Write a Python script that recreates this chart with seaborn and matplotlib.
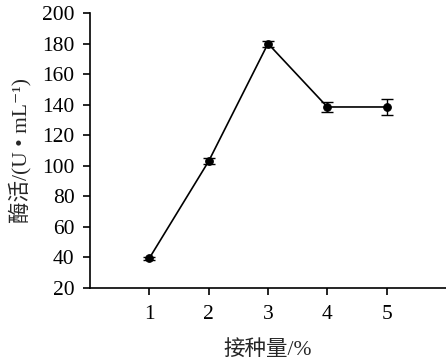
import matplotlib
matplotlib.use("Agg")
import matplotlib.pyplot as plt
import seaborn as sns
import pandas as pd

inoculum = [1, 2, 3, 4, 5]
activity = [39.5, 103.0, 180.0, 138.5, 138.5]
errors = [1.0, 2.0, 2.0, 3.0, 5.5]
yticks = [20, 40, 60, 80, 100, 120, 140, 160, 180, 200]

sns.set_style("ticks")
plt.rcParams['font.family'] = ['Liberation Serif', 'Noto Sans CJK SC', 'DejaVu Sans']

df = pd.DataFrame({"x": inoculum, "y": activity})
fig = plt.figure(figsize=(4.46, 3.62), dpi=100)
ax = fig.add_axes([0.2018, 0.2044, 0.7982, 0.7596])
sns.lineplot(data=df, x="x", y="y", ax=ax, color="black", linewidth=1.2,
             marker="o", markersize=5.5, markeredgecolor="black")
ax.errorbar(inoculum, activity, yerr=errors, fmt="none", ecolor="black",
            elinewidth=1.0, capsize=4, capthick=1.0)
ax.set_xlim(0, 6)
ax.set_ylim(20, 200)
ax.set_xticks(inoculum)
ax.set_yticks(yticks)
ax.tick_params(axis="both", direction="out", length=5, width=1.2, labelsize=15.5,
               colors="black")
ax.tick_params(axis="y", pad=6)
ax.tick_params(axis="x", pad=7)
for s in ["left", "bottom"]:
    ax.spines[s].set_linewidth(1.2)
    ax.spines[s].set_color("black")
sns.despine(ax=ax)
ax.set_xlabel("接种量/%", fontsize=15.5, labelpad=12)
ax.set_ylabel("酶活/(U • mL⁻¹)", fontsize=15.5, labelpad=8)
fig.savefig("out.png", dpi=100)
